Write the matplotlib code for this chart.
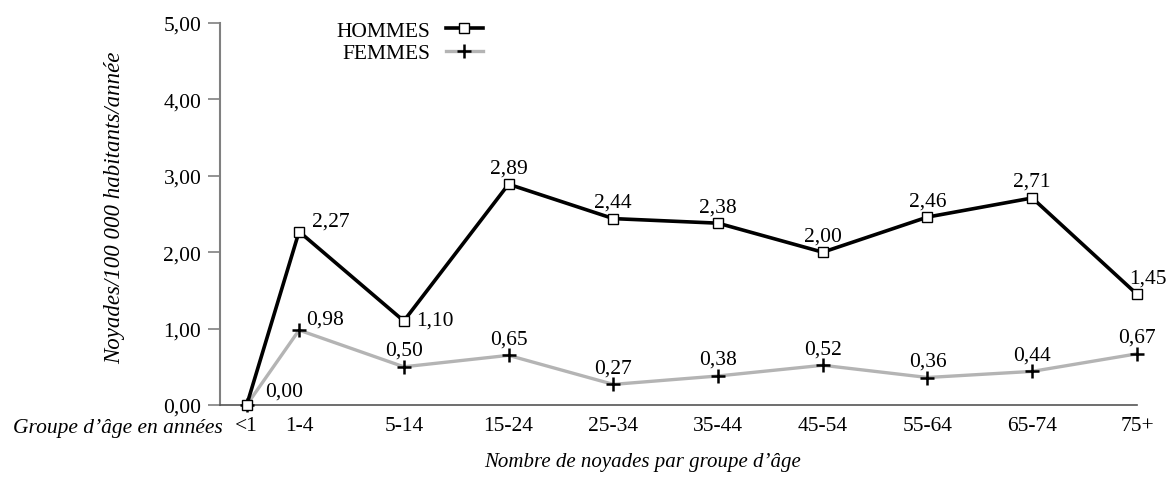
import matplotlib.pyplot as plt

groupes = ['<1', '1-4', '5-14', '15-24', '25-34', '35-44', '45-54', '55-64', '65-74', '75+']
hommes = [0.00, 2.27, 1.10, 2.89, 2.44, 2.38, 2.00, 2.46, 2.71, 1.45]
femmes = [0.00, 0.98, 0.50, 0.65, 0.27, 0.38, 0.52, 0.36, 0.44, 0.67]
yticks = [0, 1, 2, 3, 4, 5]


def fmt(v):
    return ('%.2f' % v).replace('.', ',')


def main():
    plt.rcParams['font.family'] = ['Liberation Serif', 'DejaVu Serif']
    fs = 15.5

    fig = plt.figure(figsize=(11.69, 4.81), dpi=100)
    ax = fig.add_axes([0.1882, 0.1559, 0.7844, 0.7942])

    # "<1" sits half a step before the other groups
    xpos = [0.5] + list(range(1, len(groupes)))

    lh, = ax.plot(xpos, hommes, color='black', lw=2.6, marker='s', ms=7,
                  mfc='white', mec='black', mew=1.0, clip_on=False, zorder=4)
    lf, = ax.plot(xpos, femmes, color='#b4b4b4', lw=2.4, marker='+', ms=10,
                  mec='black', mew=1.8, clip_on=False, zorder=3)

    # value labels
    for i, (x, v) in enumerate(zip(xpos, hommes)):
        if i == 0:
            continue
        if i in (1, 2):
            ax.annotate(fmt(v), (x, v), xytext=(9, 1), textcoords='offset points',
                        ha='left', va='bottom' if i == 1 else 'center', fontsize=fs)
        elif i == len(hommes) - 1:
            ax.annotate(fmt(v), (x, v), xytext=(8, 5), textcoords='offset points',
                        ha='center', va='bottom', fontsize=fs)
        else:
            ax.annotate(fmt(v), (x, v), xytext=(0, 5), textcoords='offset points',
                        ha='center', va='bottom', fontsize=fs)

    for i, (x, v) in enumerate(zip(xpos, femmes)):
        if i == 0:
            ax.annotate(fmt(v), (x, v), xytext=(13, 3), textcoords='offset points',
                        ha='left', va='bottom', fontsize=fs)
        elif i == 1:
            ax.annotate(fmt(v), (x, v), xytext=(5, 1), textcoords='offset points',
                        ha='left', va='bottom', fontsize=fs)
        else:
            ax.annotate(fmt(v), (x, v), xytext=(0, 5), textcoords='offset points',
                        ha='center', va='bottom', fontsize=fs)

    ax.set_xlim(0.245, len(groupes) - 1)
    ax.set_ylim(0, 5)

    ax.set_yticks(yticks)
    ax.set_yticklabels([fmt(v) for v in yticks], fontsize=fs)
    ax.set_xticks(xpos)
    ax.set_xticklabels(groupes, fontsize=fs)
    ax.tick_params(axis='x', length=0, pad=8)
    ax.tick_params(axis='y', length=8.5, width=1.2, color='#808080',
                   direction='out', pad=5)

    for side in ('top', 'right'):
        ax.spines[side].set_visible(False)
    ax.spines['left'].set_color('#808080')
    ax.spines['left'].set_linewidth(1.5)
    ax.spines['bottom'].set_color('#555555')
    ax.spines['bottom'].set_linewidth(1.2)

    ax.set_ylabel('Noyades/100 000 habitants/année', fontsize=16.5, style='italic')
    ax.yaxis.set_label_coords(125 / 1169, 1 - 208 / 481, transform=fig.transFigure)

    fig.text(223 / 1169, 1 - 428 / 481, 'Groupe d\u2019âge en années', fontsize=15.5,
             style='italic', ha='right', va='center')
    fig.text(643 / 1169, 1 - 462 / 481, 'Nombre de noyades par groupe d\u2019âge',
             fontsize=15, style='italic', ha='center', va='center')

    leg = ax.legend([lh, lf], ['HOMMES', 'FEMMES'], loc='upper right',
                    bbox_to_anchor=(494 / 1169, 1 - 11 / 481),
                    bbox_transform=fig.transFigure, frameon=False, fontsize=fs,
                    markerfirst=False, handlelength=1.75, handletextpad=0.7,
                    labelspacing=0.1, borderpad=0)
    for t in leg.get_texts():
        t.set_ha('right')

    fig.savefig('out.png', dpi=100)


if __name__ == '__main__':
    main()
